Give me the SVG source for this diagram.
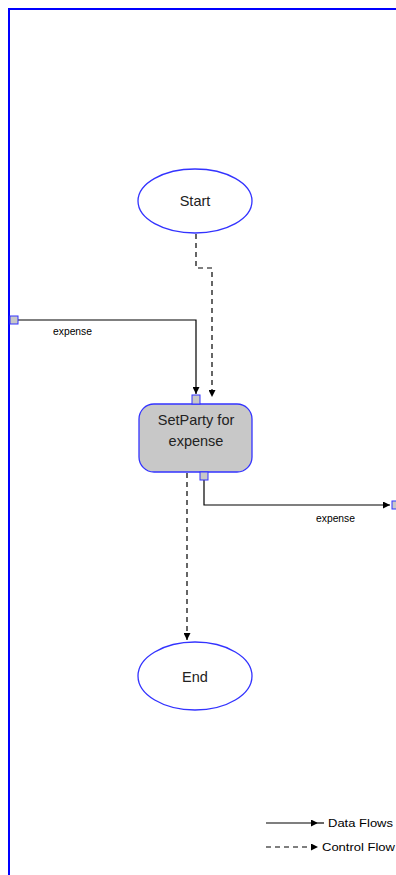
<svg xmlns="http://www.w3.org/2000/svg" width="396" height="875" viewBox="0 0 396 875">
<style>
.frame{fill:none;stroke:#0000ff;stroke-width:2}
.node{stroke:#3333ff;stroke-width:1.3}
.ell{fill:#ffffff}
.task{fill:#c8c8c8}
.port{fill:#c8c8c8;stroke:#3333ff;stroke-width:1}
.t{font-family:"Liberation Sans",Arial,sans-serif;font-size:14.5px;fill:#222;text-anchor:middle}
.lbl{font-family:"Liberation Sans",Arial,sans-serif;font-size:10px;fill:#000}
.leg{font-family:"Liberation Sans",Arial,sans-serif;font-size:11px;fill:#000}
.data{fill:none;stroke:#000;stroke-width:1.2}
.ctrl{fill:none;stroke:#000;stroke-width:1.2;stroke-dasharray:5,4}
</style>
<defs>
<marker id="ah" viewBox="0 0 10 10" refX="10" refY="5" markerWidth="7" markerHeight="7" markerUnits="userSpaceOnUse" orient="auto">
<path d="M0,0 L10,5 L0,10 Z" fill="#000"/>
</marker>
</defs>
<rect width="396" height="875" fill="#ffffff"/>
<path class="frame" d="M9,875 V9 H396"/>
<g id="connectors">
<path class="ctrl" d="M196,234 V268 H212 V397" marker-end="url(#ah)"/>
<path class="data" d="M18,320 H196 V394" marker-end="url(#ah)"/>
<path class="data" d="M204,480 V505 H390" marker-end="url(#ah)"/>
<path class="ctrl" d="M187,473 V640" marker-end="url(#ah)"/>
<text class="lbl" x="53" y="335" textLength="39" lengthAdjust="spacingAndGlyphs">expense</text>
<text class="lbl" x="316" y="522" textLength="39" lengthAdjust="spacingAndGlyphs">expense</text>
</g>
<g id="start">
<ellipse class="node ell" cx="195" cy="201" rx="57" ry="32"/>
<text class="t" x="195" y="206">Start</text>
</g>
<g id="setparty">
<rect class="node task" x="139" y="404" width="113" height="68" rx="15"/>
<text class="t" x="196" y="425">SetParty for</text>
<text class="t" x="196" y="446">expense</text>
<rect class="port" x="192" y="395" width="8" height="9"/>
<rect class="port" x="200" y="472" width="8" height="8"/>
</g>
<g id="end">
<ellipse class="node ell" cx="195" cy="676" rx="57" ry="34"/>
<text class="t" x="195" y="682">End</text>
</g>
<g id="in-port">
<rect class="port" x="10" y="316" width="8" height="8"/>
</g>
<g id="out-port">
<rect class="port" x="392" y="501" width="8" height="8"/>
</g>
<g id="legend">
<path class="data" d="M266,823 H318" marker-end="url(#ah)"/>
<line x1="318" y1="823" x2="324" y2="823" stroke="#000" stroke-width="1.2"/>
<text class="leg" x="328" y="827" textLength="65" lengthAdjust="spacingAndGlyphs">Data Flows</text>
<path class="ctrl" d="M266,847 H318" marker-end="url(#ah)"/>
<text class="leg" x="322" y="851" textLength="73" lengthAdjust="spacingAndGlyphs">Control Flow</text>
</g>
</svg>
